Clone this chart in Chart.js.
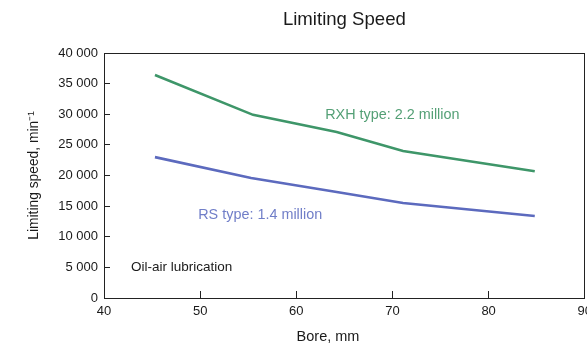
<!DOCTYPE html>
<html>
<head>
<meta charset="utf-8">
<script src="https://cdn.jsdelivr.net/npm/chart.js@4/dist/chart.umd.min.js"></script>
<style>
  html, body { margin: 0; padding: 0; background: #fff; overflow: hidden; }
  #wrap { width: 605px; height: 347px; }
</style>
</head>
<body>
<div id="wrap"><canvas id="speedChart" width="605" height="347"></canvas></div>
<script>
// values
const rxhBore = [45.3, 55.5, 64.2, 71.1, 84.8];
const rxhSpeed = [36400, 29900, 27100, 24000, 20700];
const rsBore = [45.3, 55.3, 64.2, 71.1, 84.8];
const rsSpeed = [23000, 19600, 17300, 15500, 13400];
const xTicks = [40, 50, 60, 70, 80, 90];
const yTicks = [0, 5000, 10000, 15000, 20000, 25000, 30000, 35000, 40000];

const green = 'rgb(62, 150, 105)';
const blue = 'rgb(92, 106, 190)';
const font = '"Liberation Sans", Arial, Helvetica, sans-serif';

// text notes placed in data coordinates
const notes = [
    { text: 'RXH type: 2.2 million', x: 63.0, y: 29900, color: 'rgb(84, 160, 118)', size: 14.4 },
    { text: 'RS type: 1.4 million', x: 49.8, y: 13550, color: 'rgb(112, 126, 200)', size: 14.4 },
    { text: 'Oil-air lubrication', x: 42.8, y: 5050, color: '#1a1a1a', size: 13.5 }
];

const toPoints = (xs, ys) => xs.map((x, i) => ({ x: x, y: ys[i] }));
const fmt = v => String(v).replace(/\B(?=(\d{3})+(?!\d))/g, ' ');

const frameAndText = {
    id: 'frameAndText',
    afterDraw(chart) {
        const { ctx, chartArea: a, scales } = chart;
        ctx.save();
        ctx.strokeStyle = '#222';
        ctx.lineWidth = 1;
        ctx.strokeRect(Math.round(a.left) + 0.5, Math.round(a.top) + 0.5,
            Math.round(a.right - a.left) - 1, Math.round(a.bottom - a.top));

        ctx.textBaseline = 'middle';
        ctx.textAlign = 'left';
        notes.forEach(n => {
            ctx.font = n.size + 'px ' + font;
            ctx.fillStyle = n.color;
            ctx.fillText(n.text, scales.x.getPixelForValue(n.x), scales.y.getPixelForValue(n.y));
        });

        ctx.fillStyle = '#1a1a1a';
        ctx.textAlign = 'center';
        ctx.font = '18.6px ' + font;
        ctx.fillText('Limiting Speed', (a.left + a.right) / 2, 20);
        ctx.font = '14.5px ' + font;
        ctx.fillText('Bore, mm', 328, 337);
        ctx.restore();
    }
};

new Chart(document.getElementById('speedChart').getContext('2d'), {
    type: 'scatter',
    data: {
        datasets: [
            { label: 'RXH type', data: toPoints(rxhBore, rxhSpeed), showLine: true,
              borderColor: green, borderWidth: 2.6, pointRadius: 0, tension: 0 },
            { label: 'RS type', data: toPoints(rsBore, rsSpeed), showLine: true,
              borderColor: blue, borderWidth: 2.6, pointRadius: 0, tension: 0 }
        ]
    },
    options: {
        responsive: false,
        animation: false,
        layout: { padding: { top: 53, left: 0, right: 0, bottom: 0 } },
        plugins: { legend: { display: false }, tooltip: { enabled: false } },
        scales: {
            x: {
                type: 'linear',
                min: 40, max: 90,
                afterBuildTicks: s => { s.ticks = xTicks.map(v => ({ value: v })); },
                afterFit: s => { s.height = 49; },
                grid: { drawOnChartArea: false, tickLength: -7, color: '#222' },
                border: { color: '#222' },
                ticks: { color: '#1a1a1a', padding: 13, maxRotation: 0, font: { family: font, size: 13 } }
            },
            y: {
                min: 0, max: 40000,
                afterBuildTicks: s => { s.ticks = yTicks.map(v => ({ value: v })); },
                afterFit: s => { s.width = 104; },
                grid: { drawOnChartArea: false, tickLength: -6, color: '#222' },
                border: { color: '#222' },
                title: { display: true, text: 'Limiting speed, min\u207B\u00B9', color: '#1a1a1a',
                         padding: { top: 26, bottom: 0 }, font: { family: font, size: 13.8 } },
                ticks: { color: '#1a1a1a', padding: 12, callback: v => fmt(v),
                         font: { family: font, size: 13 } }
            }
        }
    },
    plugins: [frameAndText]
});
</script>
</body>
</html>
